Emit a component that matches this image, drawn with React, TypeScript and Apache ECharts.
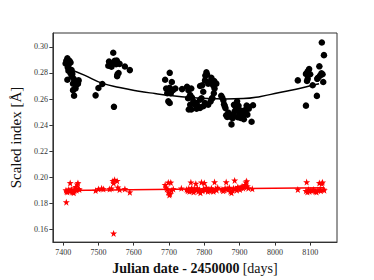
import React, { useEffect, useRef } from "react";
import * as echarts from "echarts";

// Julian date - 2450000 ticks
const xTicks = [7400, 7500, 7600, 7700, 7800, 7900, 8000, 8100];
const yTicks = [0.16, 0.18, 0.2, 0.22, 0.24, 0.26, 0.28, 0.3];

// Scaled index of the black points (circles)
const blackDots: [number, number][] = [
  [7412, 0.2913], [7409, 0.2893], [7418, 0.2893], [7407, 0.2873], [7416, 0.2868],
  [7421, 0.288], [7413, 0.2843], [7418, 0.283], [7415, 0.2818], [7424, 0.2823],
  [7421, 0.2798], [7426, 0.2793], [7412, 0.2748], [7424, 0.2773], [7430, 0.2756],
  [7428, 0.2718], [7440, 0.2738], [7444, 0.2743], [7442, 0.2718], [7437, 0.2706],
  [7435, 0.2681], [7428, 0.2668], [7431, 0.2626],
  [7492, 0.2628], [7500, 0.2685], [7511, 0.2715], [7530, 0.2888], [7528, 0.2855],
  [7533, 0.287], [7537, 0.2848], [7542, 0.2955], [7544, 0.254], [7546, 0.2893],
  [7550, 0.2868], [7552, 0.2895], [7554, 0.279], [7553, 0.2775], [7557, 0.28],
  [7560, 0.287], [7575, 0.285], [7589, 0.2822],
  [7702, 0.2801], [7689, 0.2748], [7708, 0.2731], [7702, 0.2686], [7711, 0.2668],
  [7718, 0.2681], [7695, 0.2644], [7698, 0.2582], [7702, 0.2569], [7737, 0.2676],
  [7692, 0.268], [7705, 0.2645],
  [7751, 0.2694], [7755, 0.2668], [7763, 0.2681], [7760, 0.2631], [7754, 0.2606],
  [7765, 0.2611], [7769, 0.2582], [7760, 0.2556], [7763, 0.2519], [7774, 0.2556],
  [7778, 0.2569], [7783, 0.2544], [7788, 0.2594], [7792, 0.2606], [7797, 0.2656],
  [7794, 0.2706], [7802, 0.2743], [7806, 0.2806], [7803, 0.278], [7811, 0.2718],
  [7816, 0.2731], [7820, 0.2743], [7825, 0.2706], [7829, 0.2681], [7834, 0.2718],
  [7827, 0.2644], [7822, 0.2606], [7818, 0.2582], [7811, 0.2556], [7802, 0.2569],
  [7788, 0.2532], [7778, 0.2526], [7808, 0.2788], [7820, 0.2763], [7828, 0.2738],
  [7823, 0.2607], [7797, 0.2544], [7756, 0.2519], [7788, 0.27],
  [7848, 0.2625], [7851, 0.261], [7854, 0.259], [7856, 0.256], [7858, 0.2545],
  [7860, 0.253], [7862, 0.2475], [7865, 0.2462], [7868, 0.2495], [7871, 0.2485],
  [7874, 0.2465], [7877, 0.2405], [7880, 0.2452], [7882, 0.247], [7884, 0.2555],
  [7886, 0.2505], [7889, 0.254], [7891, 0.253], [7893, 0.2582], [7895, 0.246],
  [7897, 0.2548], [7899, 0.248], [7901, 0.2505], [7903, 0.2455], [7905, 0.251],
  [7908, 0.247], [7910, 0.249], [7912, 0.2445], [7915, 0.25], [7918, 0.252],
  [7920, 0.255], [7922, 0.248], [7924, 0.254], [7926, 0.2525], [7934, 0.2425],
  [7938, 0.2552],
  [8065, 0.2743], [8088, 0.2793], [8093, 0.2813], [8097, 0.283], [8091, 0.2738],
  [8088, 0.2549], [8107, 0.2706], [8119, 0.2624], [8122, 0.2763], [8128, 0.278],
  [8132, 0.2798], [8126, 0.2851], [8137, 0.2731], [8139, 0.2937], [8133, 0.3034],
  [8093, 0.2755], [8100, 0.279], [8120, 0.2755], [8135, 0.279],
];

// Scaled index of the red points (stars)
const redStars: [number, number][] = [
  [7408, 0.19], [7409, 0.1808], [7410, 0.189], [7412, 0.1885], [7414, 0.1898],
  [7416, 0.1905], [7418, 0.1892], [7420, 0.1955], [7422, 0.19], [7424, 0.1905],
  [7426, 0.1885], [7428, 0.189], [7430, 0.188], [7432, 0.1895], [7434, 0.1915],
  [7436, 0.1925], [7438, 0.19], [7440, 0.1945], [7442, 0.1955], [7444, 0.191],
  [7446, 0.1905],
  [7492, 0.1897], [7500, 0.1909], [7509, 0.1914], [7514, 0.1909], [7532, 0.1909],
  [7537, 0.1914], [7541, 0.1971], [7546, 0.1979], [7543, 0.1954], [7553, 0.1971],
  [7555, 0.1922], [7560, 0.1904], [7575, 0.1909], [7589, 0.1884], [7543, 0.1568],
  [7689, 0.1941], [7698, 0.1959], [7705, 0.1959], [7694, 0.1909], [7698, 0.1884],
  [7703, 0.1872], [7707, 0.1897], [7712, 0.1909], [7692, 0.1922], [7701, 0.1862],
  [7735, 0.1914],
  [7750, 0.1905], [7753, 0.1895], [7756, 0.1912], [7758, 0.189], [7760, 0.19],
  [7762, 0.196], [7764, 0.1915], [7766, 0.1895], [7768, 0.1905], [7770, 0.1885],
  [7773, 0.191], [7776, 0.195], [7778, 0.19], [7780, 0.1915], [7783, 0.189],
  [7786, 0.1905], [7789, 0.188], [7792, 0.196], [7795, 0.1895], [7798, 0.191],
  [7800, 0.1955], [7803, 0.19], [7806, 0.192], [7810, 0.189], [7813, 0.1905],
  [7816, 0.1895], [7820, 0.1915], [7823, 0.19], [7826, 0.189], [7829, 0.1962],
  [7832, 0.191], [7835, 0.19], [7838, 0.192],
  [7850, 0.1905], [7853, 0.1895], [7856, 0.19], [7859, 0.1915], [7862, 0.1962],
  [7865, 0.191], [7868, 0.1905], [7871, 0.192], [7874, 0.189], [7877, 0.188],
  [7880, 0.19], [7883, 0.1915], [7886, 0.1975], [7889, 0.191], [7892, 0.19],
  [7895, 0.1925], [7898, 0.1915], [7901, 0.1905], [7904, 0.192], [7907, 0.193],
  [7910, 0.1915], [7913, 0.1925], [7916, 0.194], [7918, 0.196], [7920, 0.197],
  [7922, 0.193], [7925, 0.1915], [7936, 0.191],
  [8065, 0.1905], [8088, 0.1895], [8090, 0.1962], [8092, 0.1885], [8095, 0.1905],
  [8098, 0.189], [8102, 0.19], [8106, 0.1895], [8110, 0.1905], [8115, 0.189],
  [8118, 0.1885], [8122, 0.19], [8126, 0.1955], [8128, 0.1905], [8130, 0.1895],
  [8133, 0.195], [8135, 0.196], [8138, 0.1905], [8140, 0.19],
];

// Fitted curves
const blackFitX = [7408, 7460, 7510, 7560, 7610, 7660, 7710, 7760, 7810, 7860, 7910, 7960, 8010, 8060, 8110, 8125];
const blackFitY = [0.284, 0.2783, 0.2722, 0.2688, 0.2662, 0.2642, 0.2625, 0.2612, 0.2603, 0.26, 0.2603, 0.262, 0.2648, 0.2675, 0.2708, 0.2718];
const redFitX = [7408, 7780, 8140];
const redFitY = [0.1897, 0.1909, 0.1918];

const STAR =
  "path://M0,-10 L2.35,-3.24 L9.51,-3.09 L3.8,1.24 L5.88,8.09 L0,4 L-5.88,8.09 L-3.8,1.24 L-9.51,-3.09 L-2.35,-3.24 Z";

const SERIF = "'Liberation Serif', 'DejaVu Serif', serif";

export default function App() {
  const ref = useRef<HTMLDivElement>(null);
  useEffect(() => {
    document.body.style.margin = "0";
    if (!ref.current) return;
    const chart = echarts.init(ref.current, undefined, { renderer: "svg" });
    chart.setOption({
      animation: false,
      backgroundColor: "#fff",
      grid: {
        left: 46,
        right: 37,
        top: 33,
        bottom: 32,
        show: true,
        borderColor: "#333",
        borderWidth: 1,
        backgroundColor: "transparent",
      },
      xAxis: {
        type: "value",
        min: 7371,
        max: 8176,
        splitLine: { show: false },
        axisLine: { show: true, onZero: false, lineStyle: { color: "#333", width: 1 } },
        axisTick: { show: true, length: 3.5, customValues: xTicks, lineStyle: { color: "#333" } },
        axisLabel: {
          customValues: xTicks,
          margin: 6,
          fontFamily: SERIF,
          fontSize: 8,
          color: "#333",
          formatter: (v: number) => String(Math.round(v)),
        },
        name: "{b|Julian date - 2450000} {n|[days]}",
        nameLocation: "middle",
        nameGap: 16,
        nameTextStyle: {
          rich: {
            b: { fontFamily: SERIF, fontSize: 14, fontWeight: "bold", color: "#111" },
            n: { fontFamily: SERIF, fontSize: 14, color: "#111" },
          },
        },
      },
      yAxis: {
        type: "value",
        min: 0.1501,
        max: 0.3107,
        splitLine: { show: false },
        axisLine: { show: true, onZero: false, lineStyle: { color: "#333", width: 1 } },
        axisTick: { show: true, length: 3.5, customValues: yTicks, lineStyle: { color: "#333" } },
        axisLabel: {
          customValues: yTicks,
          margin: 5,
          fontFamily: SERIF,
          fontSize: 8,
          color: "#333",
          formatter: (v: number) => v.toFixed(2),
        },
        name: "Scaled index [Å]",
        nameLocation: "middle",
        nameGap: 26,
        nameTextStyle: { fontFamily: SERIF, fontSize: 15, color: "#111" },
      },
      series: [
        {
          type: "scatter",
          data: blackDots,
          symbol: "circle",
          symbolSize: 6.5,
          itemStyle: { color: "#000", opacity: 1 },
          silent: true,
        },
        {
          type: "scatter",
          data: redStars,
          symbol: STAR,
          symbolSize: 7,
          itemStyle: { color: "#ff0000", opacity: 1 },
          silent: true,
        },
        {
          type: "line",
          data: blackFitX.map((x, i) => [x, blackFitY[i]]),
          smooth: true,
          showSymbol: false,
          lineStyle: { color: "#000", width: 1.5 },
          silent: true,
        },
        {
          type: "line",
          data: redFitX.map((x, i) => [x, redFitY[i]]),
          smooth: true,
          showSymbol: false,
          lineStyle: { color: "#ff0000", width: 1.5 },
          silent: true,
        },
      ],
    });
    return () => chart.dispose();
  }, []);
  return (
    <div
      ref={ref}
      style={{ width: 374, height: 280, position: "absolute", left: 0, top: 0 }}
    />
  );
}
